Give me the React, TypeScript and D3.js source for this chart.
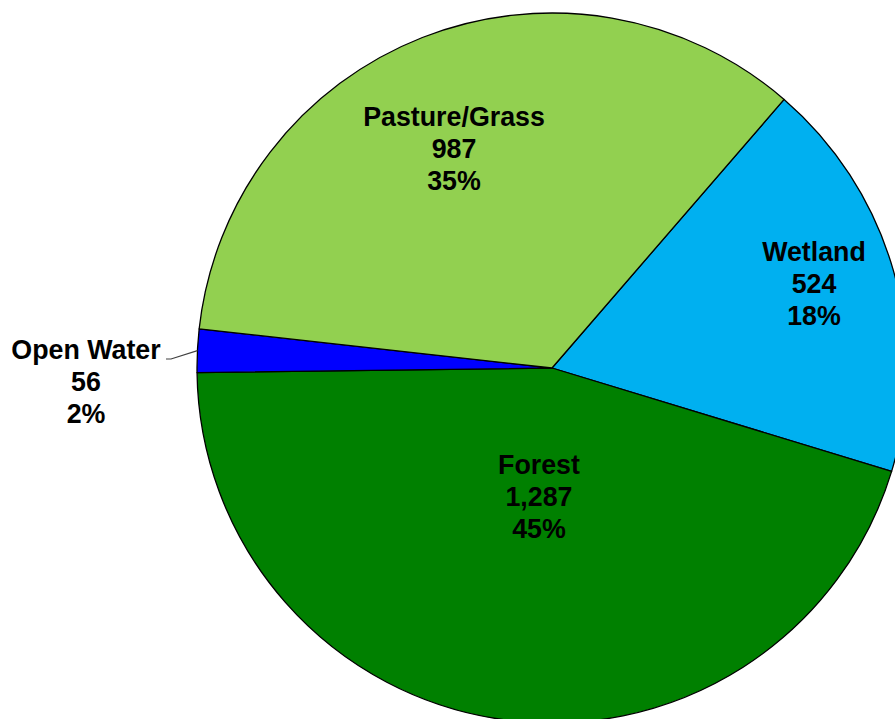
import React from "react";
import * as d3 from "d3";

const categories = ["Wetland", "Forest", "Open Water", "Pasture/Grass"];
const values = [524, 1287, 56, 987];
const colors = ["#00B0F0", "#008000", "#0000FF", "#92D050"];

// label anchor offsets (px) relative to pie centre for the first line's centre
const labelLayout: Record<string, { dx: number; dy: number; outside?: boolean }> = {
  "Wetland": { dx: 262, dy: -116 },
  "Forest": { dx: -13, dy: 97 },
  "Open Water": { dx: -466, dy: -18, outside: true },
  "Pasture/Grass": { dx: -98, dy: -251 },
};

const W = 895;
const H = 719;
const cx = 552;
const cy = 368;
const R = 355;
const startDeg = 40.83;

export default function App() {
  const total = d3.sum(values);
  const data = categories.map((c, i) => ({ cat: c, value: values[i], color: colors[i] }));
  const pie = d3
    .pie<any>()
    .sort(null)
    .value((d: any) => d.value)
    .startAngle((startDeg * Math.PI) / 180)
    .endAngle((startDeg * Math.PI) / 180 + 2 * Math.PI);
  const arcs = pie(data);
  const arcGen = d3.arc<any>().innerRadius(0).outerRadius(R);
  const fmt = d3.format(",");
  const lineH = 31.8;

  return (
    <svg
      width={W}
      height={H}
      style={{ position: "absolute", left: 0, top: 0, display: "block", background: "#fff" }}
    >
      <g transform={`translate(${cx},${cy})`}>
        {arcs.map((a, i) => (
          <path
            key={i}
            d={arcGen(a) as string}
            fill={a.data.color}
            stroke="#000"
            strokeWidth={1.3}
            strokeLinejoin="round"
          />
        ))}
        {arcs.map((a, i) => {
          const lay = labelLayout[a.data.cat];
          const pct = Math.round((a.data.value / total) * 100) + "%";
          const lines = [a.data.cat, fmt(a.data.value), pct];
          let leader = null;
          if (lay.outside) {
            const mid = (a.startAngle + a.endAngle) / 2;
            const ex = R * Math.sin(mid);
            const ey = -R * Math.cos(mid);
            const lx = lay.dx + 80;
            const ly = lay.dy + 9;
            leader = (
              <polyline
                points={`${lx},${ly} ${lx + 5},${ly} ${ex},${ey}`}
                fill="none"
                stroke="#404040"
                strokeWidth={1.2}
              />
            );
          }
          return (
            <g key={"l" + i}>
              {leader}
              {lines.map((t, j) => (
                <text
                  key={j}
                  x={lay.dx}
                  y={lay.dy + j * lineH}
                  dy="0.35em"
                  textAnchor="middle"
                  fontFamily="'Liberation Sans', Arial, sans-serif"
                  fontWeight="bold"
                  fontSize={26.8}
                  fill="#000"
                >
                  {t}
                </text>
              ))}
            </g>
          );
        })}
      </g>
    </svg>
  );
}
